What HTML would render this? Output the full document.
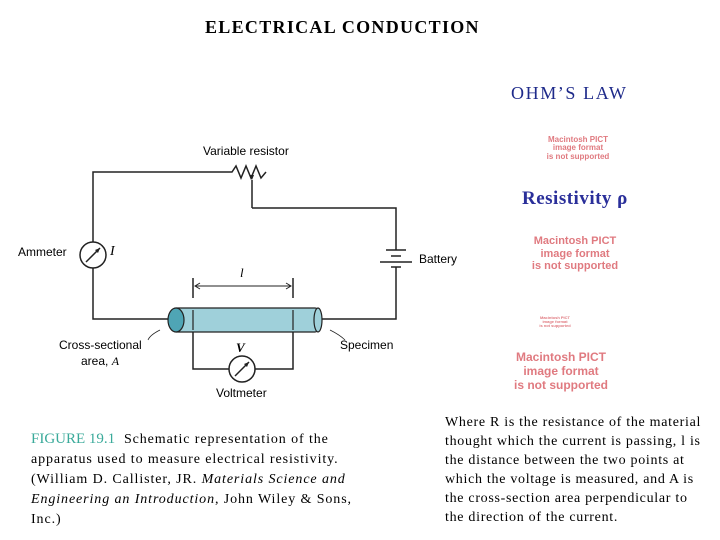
<!DOCTYPE html>
<html><head><meta charset="utf-8"><style>
body{margin:0;width:720px;height:540px;background:#fff;position:relative;overflow:hidden;font-family:"Liberation Serif",serif;}
.t{position:absolute;white-space:nowrap;}
.s{font-family:"Liberation Sans",sans-serif;}
.p{color:#e07a80;font-family:"Liberation Sans",sans-serif;font-weight:bold;text-align:center;position:absolute;line-height:1.05;}
</style></head><body>
<div class="t" style="left:205px;top:17px;font-size:18px;font-weight:bold;letter-spacing:1.3px;">ELECTRICAL CONDUCTION</div>
<div class="t" style="left:511px;top:83px;font-size:18px;color:#1e2a8a;letter-spacing:1.6px;">OHM’S LAW</div>
<div class="p" style="left:530px;top:136px;width:96px;font-size:8px;">Macintosh PICT<br>image format<br>is not supported</div>
<div class="t" style="left:522px;top:188px;font-size:19px;color:#2a2f9a;font-weight:bold;letter-spacing:0.5px;">Resistivity ρ</div>
<div class="p" style="left:520px;top:235px;width:110px;font-size:11px;line-height:1.15;">Macintosh PICT<br>image format<br>is not supported</div>
<div class="p" style="left:525px;top:316px;width:60px;font-size:4px;">Macintosh PICT<br>image format<br>is not supported</div>
<div class="p" style="left:508px;top:351px;width:106px;font-size:12px;line-height:1.15;">Macintosh PICT<br>image format<br>is not supported</div>

<svg style="position:absolute;left:0;top:0" width="720" height="540">
<g fill="none" stroke="#222" stroke-width="1.5">
<polyline points="228,172 93,172 93,242"/>
<polyline points="93,268 93,319 168,319"/>
<polyline points="228,172 232,172 236,166 241,178 246,166 251,178 256,166 261,178 266,172"/>
<polyline points="252,208 252,180"/>
<polyline points="252,208 396,208 396,250"/>
<line x1="386" y1="250" x2="406" y2="250"/>
<line x1="391" y1="256" x2="401" y2="256"/>
<line x1="380" y1="262" x2="412" y2="262"/>
<line x1="391" y1="267" x2="401" y2="267"/>
<polyline points="396,267 396,319 318,319"/>
<circle cx="93" cy="255" r="13"/>
<line x1="86" y1="262" x2="100" y2="248"/>
<circle cx="242" cy="369" r="13"/>
<line x1="235" y1="376" x2="249" y2="362"/>
<polyline points="193,320 193,369 229,369"/>
<polyline points="255,369 293,369 293,320"/>
<line x1="193" y1="278" x2="193" y2="298"/>
<line x1="293" y1="278" x2="293" y2="298"/>
<line x1="195" y1="286" x2="291" y2="286" stroke-width="1"/>
<path d="M200,283 L195,286 L200,289 M286,283 L291,286 L286,289" stroke-width="1"/>
<path d="M160,330 Q150,335 148,340 M330,330 Q340,335 345,340" stroke-width="0.8"/>
</g>
<path d="M250,175 L252,180 L254,175" fill="#222"/>
<path d="M100,248 L95,250 L98,253Z M249,362 L244,364 L247,367Z" fill="#222"/>
<rect x="173" y="308" width="145" height="24" rx="3" fill="#9fd0da" stroke="#222" stroke-width="1.2"/>
<ellipse cx="318" cy="320" rx="4" ry="12" fill="#9fd0da" stroke="#222" stroke-width="1.2"/>
<ellipse cx="176" cy="320" rx="8" ry="12" fill="#4fa5b5" stroke="#222" stroke-width="1.2"/>
<line x1="193" y1="310" x2="193" y2="330" stroke="#222" stroke-width="1.2"/>
<line x1="293" y1="310" x2="293" y2="330" stroke="#222" stroke-width="1.2"/>
</svg>
<div class="t s" style="left:203px;top:144px;font-size:12px;">Variable resistor</div>
<div class="t s" style="left:18px;top:245px;font-size:12px;">Ammeter</div>
<div class="t" style="left:110px;top:244px;font-size:14px;font-style:italic;">I</div>
<div class="t s" style="left:419px;top:252px;font-size:12px;">Battery</div>
<div class="t" style="left:240px;top:265px;font-size:13px;font-style:italic;">l</div>
<div class="t s" style="left:340px;top:338px;font-size:12px;">Specimen</div>
<div class="t s" style="left:59px;top:338px;font-size:12px;">Cross-sectional</div>
<div class="t s" style="left:81px;top:354px;font-size:12px;">area, <i style="font-family:'Liberation Serif'">A</i></div>
<div class="t" style="left:236px;top:340px;font-size:13px;font-style:italic;font-weight:bold;">V</div>
<div class="t s" style="left:216px;top:386px;font-size:12px;">Voltmeter</div>

<div class="t" style="left:31px;top:429px;font-size:14px;line-height:20px;letter-spacing:0.9px;"><span style="color:#3aaa9a;font-size:15px;letter-spacing:0;">FIGURE 19.1</span>&nbsp; Schematic representation of the<br>apparatus used to measure electrical resistivity.<br>(William D. Callister, JR. <i>Materials Science and</i><br><i>Engineering an Introduction</i>, John Wiley &amp; Sons,<br>Inc.)</div>
<div class="t" style="left:445px;top:413px;font-size:14px;line-height:19px;letter-spacing:0.7px;">Where R is the resistance of the material<br>thought which the current is passing, l is<br>the distance between the two points at<br>which the voltage is measured, and A is<br>the cross-section area perpendicular to<br>the direction of the current.</div>
</body></html>
